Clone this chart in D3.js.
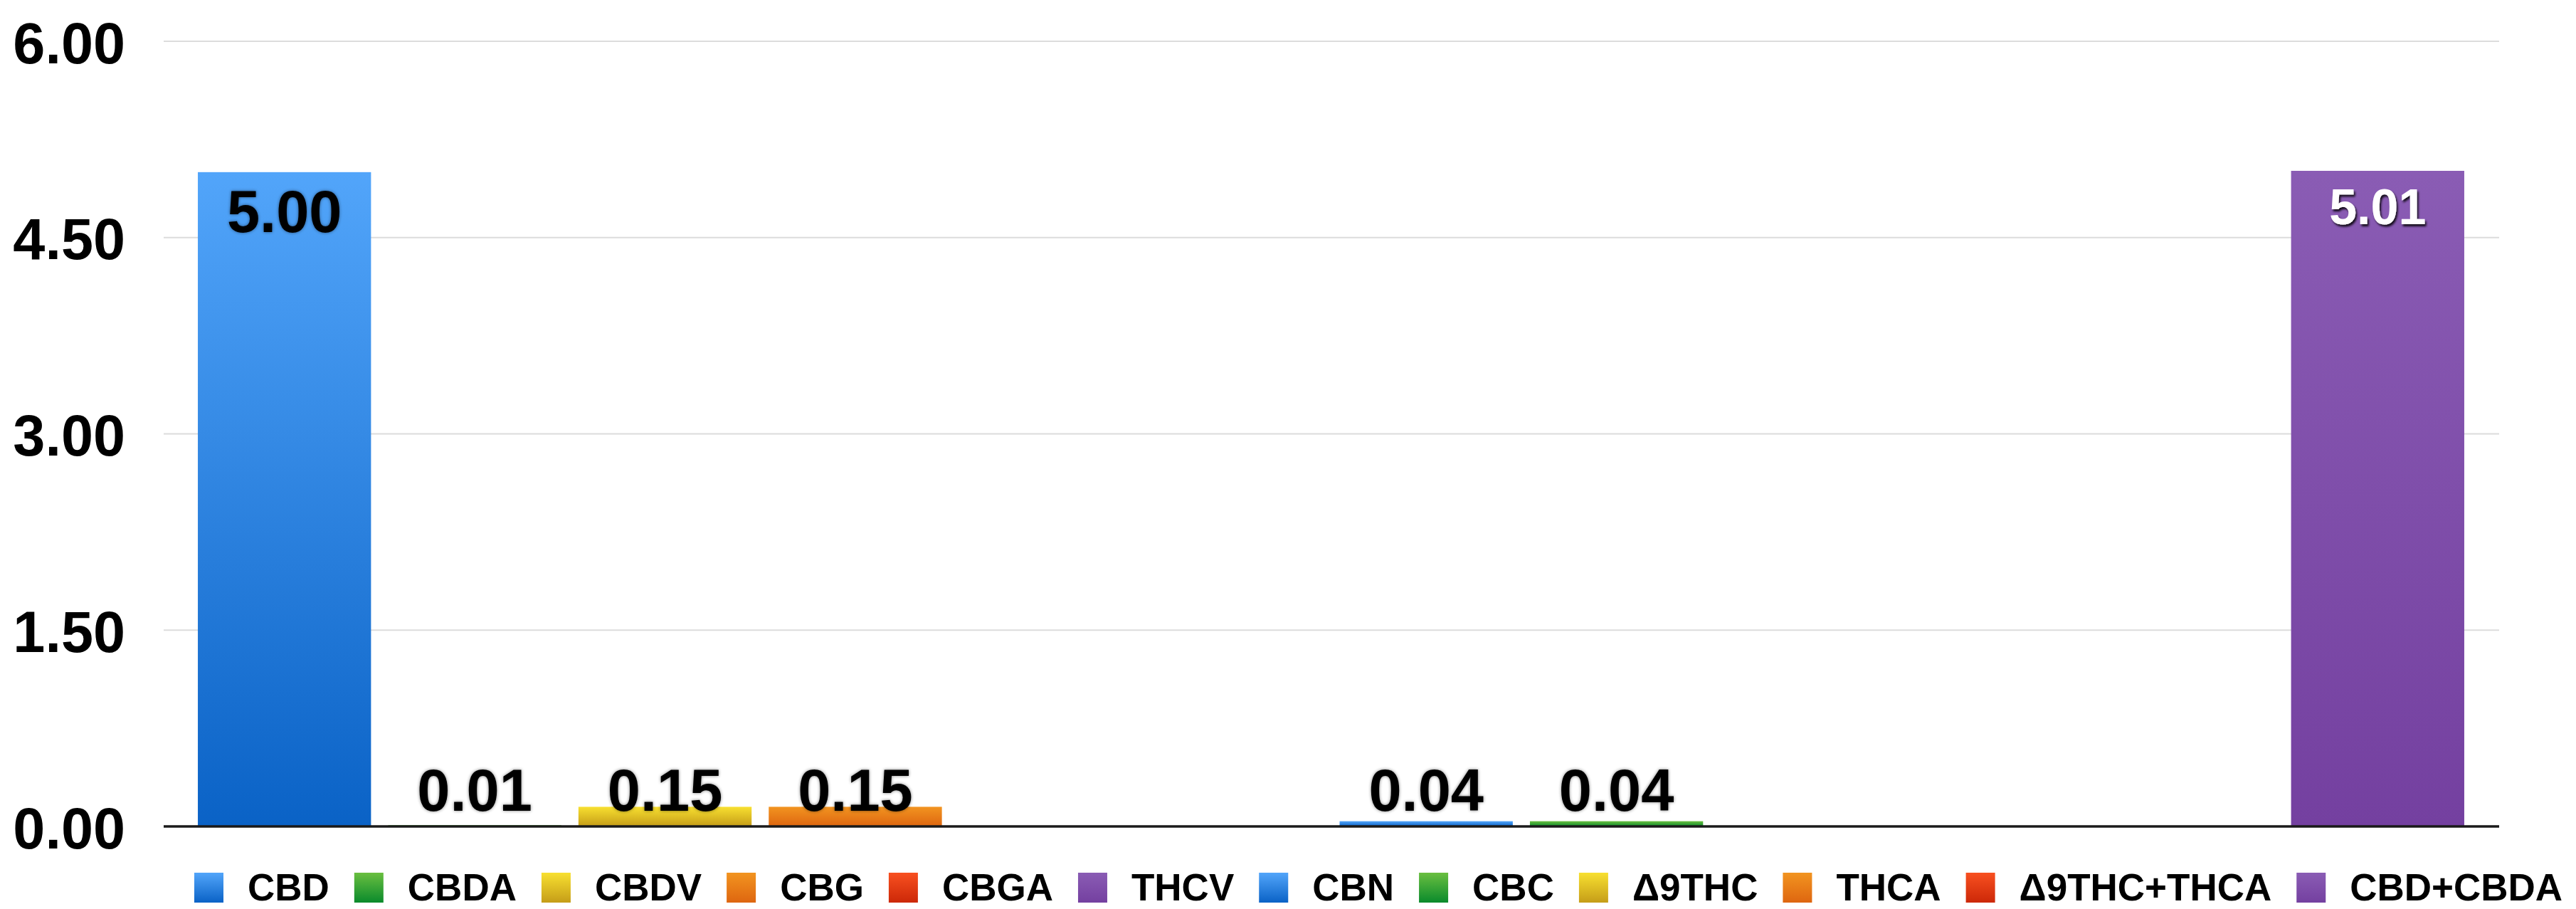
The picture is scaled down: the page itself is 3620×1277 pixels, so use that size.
<!DOCTYPE html>
<html>
<head>
<meta charset="utf-8">
<script src="https://cdn.jsdelivr.net/npm/d3@7"></script>
<style>
  html, body { margin: 0; padding: 0; background: #fff; }
  svg { display: block; font-family: "Liberation Sans", Arial, Helvetica, sans-serif; }
</style>
</head>
<body>
<div id="chart"></div>
<script>
// chart data
const categories = ['CBD', 'CBDA', 'CBDV', 'CBG', 'CBGA', 'THCV', 'CBN', 'CBC', 'Δ9THC', 'THCA', 'Δ9THC+THCA', 'CBD+CBDA'];
const values = [5.00, 0.01, 0.15, 0.15, 0, 0, 0.04, 0.04, 0, 0, 0, 5.01];
const yTicks = [0, 1.5, 3, 4.5, 6];

// gradient colours per series (top, bottom)
const palette = {
    blue:   ['#52a5fa', '#0a62c6'],
    green:  ['#6abf40', '#0a8a2c'],
    yellow: ['#f8e030', '#c59d18'],
    orange: ['#f29420', '#de6610'],
    red:    ['#f85020', '#cc2808'],
    purple: ['#8a5cb4', '#7440a0']
};
const seriesColor = ['blue', 'green', 'yellow', 'orange', 'red', 'purple',
                     'blue', 'green', 'yellow', 'orange', 'red', 'purple'];

const width = 3620, height = 1277;

const svg = d3.select('#chart')
    .append('svg')
    .attr('width', width)
    .attr('height', height);

const defs = svg.append('defs');
Object.entries(palette).forEach(([name, [c0, c1]]) => {
    const g = defs.append('linearGradient')
        .attr('id', 'grad-' + name)
        .attr('x1', 0).attr('y1', 0).attr('x2', 0).attr('y2', 1);
    g.append('stop').attr('offset', '0%').attr('stop-color', c0);
    g.append('stop').attr('offset', '100%').attr('stop-color', c1);
});

// soft halo for the dark labels
const halo = defs.append('filter').attr('id', 'halo')
    .attr('x', '-10%').attr('y', '-10%').attr('width', '120%').attr('height', '130%');
halo.append('feGaussianBlur').attr('in', 'SourceAlpha').attr('stdDeviation', 2.2).attr('result', 'b');
halo.append('feFlood').attr('flood-color', '#000').attr('flood-opacity', 0.5);
halo.append('feComposite').attr('in2', 'b').attr('operator', 'in').attr('result', 's');
const hm = halo.append('feMerge');
hm.append('feMergeNode').attr('in', 's');
hm.append('feMergeNode').attr('in', 'SourceGraphic');

// drop shadow for the white label
const drop = defs.append('filter').attr('id', 'drop')
    .attr('x', '-10%').attr('y', '-10%').attr('width', '130%').attr('height', '140%');
drop.append('feGaussianBlur').attr('in', 'SourceAlpha').attr('stdDeviation', 1.6).attr('result', 'b');
drop.append('feOffset').attr('in', 'b').attr('dx', 2).attr('dy', 3).attr('result', 'o');
drop.append('feFlood').attr('flood-color', '#000').attr('flood-opacity', 0.85);
drop.append('feComposite').attr('in2', 'o').attr('operator', 'in').attr('result', 's');
const dm = drop.append('feMerge');
dm.append('feMergeNode').attr('in', 's');
dm.append('feMergeNode').attr('in', 'SourceGraphic');

const gridLeft = 230, gridRight = 3512;

const x = d3.scaleBand()
    .domain(categories)
    .range([266, 3475])
    .paddingInner(0.09)
    .paddingOuter(0.045);

const y = d3.scaleLinear()
    .domain([0, 6])
    .range([1161, 58]);

// gridlines
svg.append('g')
    .selectAll('line')
    .data(yTicks.filter(d => d > 0))
    .join('line')
    .attr('x1', gridLeft)
    .attr('x2', gridRight)
    .attr('y1', d => y(d))
    .attr('y2', d => y(d))
    .attr('stroke', '#dcdcdc')
    .attr('stroke-width', 2);

// y axis labels
const yAxis = svg.append('g')
    .attr('transform', `translate(176,0)`)
    .call(d3.axisLeft(y).tickValues(yTicks).tickFormat(d3.format('.2f')).tickSize(0).tickPadding(0));
yAxis.select('.domain').remove();
yAxis.selectAll('text')
    .attr('font-family', '"Liberation Sans", Arial, sans-serif')
    .attr('font-size', 81)
    .attr('font-weight', 'bold')
    .attr('fill', '#000')
    .attr('dy', null)
    .attr('y', 30);

// bars
svg.append('g')
    .selectAll('rect')
    .data(values)
    .join('rect')
    .attr('x', (d, i) => x(categories[i]))
    .attr('width', x.bandwidth())
    .attr('y', d => y(d))
    .attr('height', d => y(0) - y(d))
    .attr('fill', (d, i) => `url(#grad-${seriesColor[i]})`);

// baseline
svg.append('line')
    .attr('x1', gridLeft)
    .attr('x2', gridRight)
    .attr('y1', y(0))
    .attr('y2', y(0))
    .attr('stroke', '#1a1a1a')
    .attr('stroke-width', 3.5);

// value labels
svg.append('g')
    .selectAll('text')
    .data(values.map((v, i) => ({ v, c: categories[i] })).filter(d => d.v > 0))
    .join('text')
    .attr('x', d => x(d.c) + x.bandwidth() / 2)
    .attr('y', d => {
        const fs = d.c === 'CBD+CBDA' ? 70 : 83;
        return Math.min(y(d.v) + 25 + fs * 0.716, y(0) - 22);
    })
    .attr('text-anchor', 'middle')
    .attr('font-weight', 'bold')
    .attr('font-size', d => d.c === 'CBD+CBDA' ? 70 : 83)
    .attr('fill', d => d.c === 'CBD+CBDA' ? '#fff' : '#000')
    .attr('filter', d => d.c === 'CBD+CBDA' ? 'url(#drop)' : 'url(#halo)')
    .text(d => d.v.toFixed(2));

// legend
const legend = svg.append('g');
let lx = 273;
categories.forEach((c, i) => {
    legend.append('rect')
        .attr('x', lx)
        .attr('y', 1226)
        .attr('width', 41)
        .attr('height', 42)
        .attr('fill', `url(#grad-${seriesColor[i]})`);
    const t = legend.append('text')
        .attr('x', lx + 75)
        .attr('y', 1265)
        .attr('font-size', 53)
        .attr('font-weight', 'bold')
        .attr('fill', '#000')
        .text(c);
    lx += 75 + t.node().getComputedTextLength() + 35;
});
</script>
</body>
</html>
